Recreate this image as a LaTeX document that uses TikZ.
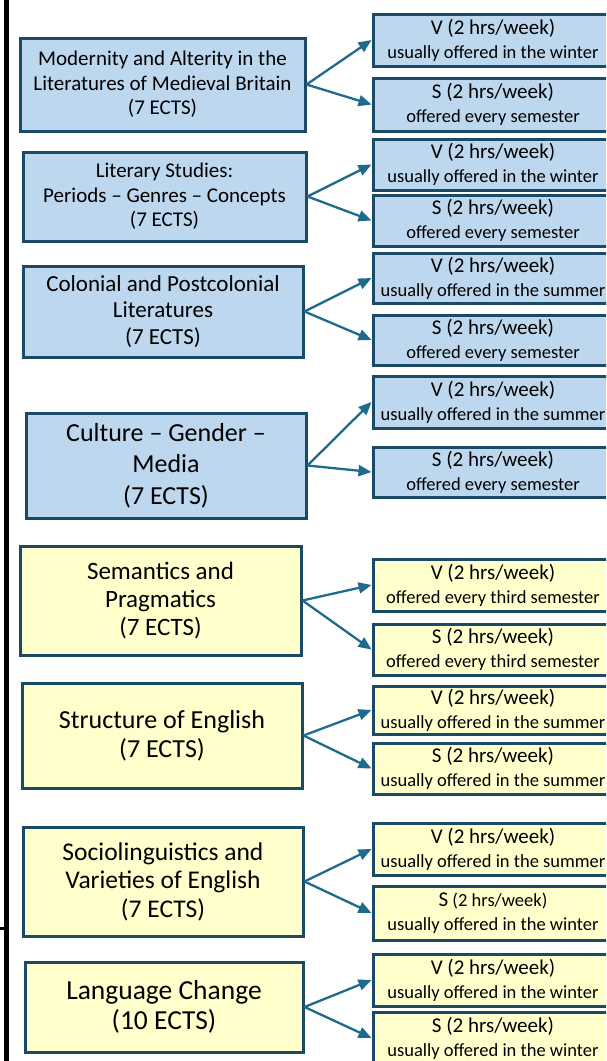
\documentclass[tikz,border=0pt]{standalone}
\usepackage{fontspec}
\setmainfont{Carlito}
\usetikzlibrary{arrows.meta}
\definecolor{bfill}{HTML}{BDD7EE}
\definecolor{yfill}{HTML}{FFFFCC}
\definecolor{bord}{HTML}{1B4A66}
\definecolor{arrc}{HTML}{1F6B8E}
\tikzset{
  box/.style={draw=bord, line width=3pt, align=center, inner sep=1pt},
  lblue/.style={box, fill=bfill},
  lyel/.style={box, fill=yfill},
  rbox/.style={box, minimum width=240pt, font=\fontsize{18.5}{24}\selectfont},
  rblue/.style={rbox, fill=bfill},
  ryel/.style={rbox, fill=yfill},
  arr/.style={draw=arrc, line width=2.3pt, -{Triangle[length=13pt,width=11pt]}},
}
\newcommand{\hd}[1]{{\fontsize{21}{24}\selectfont #1}}
\begin{document}
\begin{tikzpicture}[x=1pt,y=-1pt]
\useasboundingbox (0,0) rectangle (606,1061);
\clip (0,0) rectangle (606,1061);
\fill[white] (0,0) rectangle (606,1061);
% left rule
\coordinate (ruletop) at (6.5,0);
\coordinate (rulebot) at (6.5,1061);
\coordinate (tickl) at (0,928);
\coordinate (tickr) at (9,928);
\draw[line width=5pt] (ruletop) -- (rulebot);
\draw[line width=3pt] (tickl) -- (tickr);

% left boxes
\node[lblue, minimum width=285pt, minimum height=93pt, font=\fontsize{21}{24.5}\selectfont] (L1) at (162.5,84.5)
  {Modernity and Alterity in the\\Literatures of Medieval Britain\\(7 ECTS)};
\node[lblue, minimum width=283pt, minimum height=89pt, font=\fontsize{21}{24.5}\selectfont] (L2) at (164.5,196.5)
  {Literary Studies:\\Periods -- Genres -- Concepts\\(7 ECTS)};
\node[lblue, minimum width=280pt, minimum height=91pt, font=\fontsize{23}{26.5}\selectfont] (L3) at (163,311.5)
  {Colonial and Postcolonial\\Literatures\\(7 ECTS)};
\node[lblue, minimum width=280pt, minimum height=105pt, font=\fontsize{26}{31.5}\selectfont] (L4) at (166,465.5)
  {Culture -- Gender --\\Media\\(7 ECTS)};
\node[lyel, minimum width=281pt, minimum height=109pt, font=\fontsize{25}{28}\selectfont] (L5) at (160.5,600.5)
  {Semantics and\\Pragmatics\\(7 ECTS)};
\node[lyel, minimum width=280pt, minimum height=105pt, font=\fontsize{26}{29}\selectfont] (L6) at (162,735.5)
  {Structure of English\\(7 ECTS)};
\node[lyel, minimum width=280pt, minimum height=109pt, font=\fontsize{25.5}{28.5}\selectfont] (L7) at (163,881.5)
  {Sociolinguistics and\\Varieties of English\\(7 ECTS)};
\node[lyel, minimum width=278pt, minimum height=90pt, font=\fontsize{27.5}{30}\selectfont] (L8) at (164,1007)
  {Language Change\\(10 ECTS)};

% right boxes
\node[rblue, minimum height=52pt] (V1) at (493,40) {\hd{V (2 hrs/week)}\\usually offered in the winter};
\node[rblue, minimum height=53pt] (S1) at (493,104.5) {\hd{S (2 hrs/week)}\\offered every semester};
\node[rblue, minimum height=51pt] (V2) at (493,164.5) {\hd{V (2 hrs/week)}\\usually offered in the winter};
\node[rblue, minimum height=51pt] (S2) at (493,220.5) {\hd{S (2 hrs/week)}\\offered every semester};
\node[rblue, minimum height=50pt] (V3) at (493,278) {\hd{V (2 hrs/week)}\\usually offered in the summer};
\node[rblue, minimum height=50pt] (S3) at (493,340) {\hd{S (2 hrs/week)}\\offered every semester};
\node[rblue, minimum height=52pt] (V4) at (493,402) {\hd{V (2 hrs/week)}\\usually offered in the summer};
\node[rblue, minimum height=50pt] (S4) at (493,472) {\hd{S (2 hrs/week)}\\offered every semester};
\node[ryel, minimum height=52pt] (V5) at (493,585) {\hd{V (2 hrs/week)}\\offered every third semester};
\node[ryel, minimum height=51pt] (S5) at (493,649.5) {\hd{S (2 hrs/week)}\\offered every third semester};
\node[ryel, minimum height=48pt] (V6) at (493,710) {\hd{V (2 hrs/week)}\\usually offered in the summer};
\node[ryel, minimum height=51pt] (S6) at (493,768.5) {\hd{S (2 hrs/week)}\\usually offered in the summer};
\node[ryel, minimum height=52pt] (V7) at (493,849) {\hd{V (2 hrs/week)}\\usually offered in the summer};
\node[ryel, minimum height=54pt] (S7) at (493,913) {\hd{S} (2 hrs/week)\\usually offered in the winter};
\node[ryel, minimum height=52pt] (V8) at (493,980) {\hd{V (2 hrs/week)}\\usually offered in the winter};
\node[ryel, minimum height=52pt] (S8) at (493,1038) {\hd{S (2 hrs/week)}\\usually offered in the winter};

% connectors
\foreach \i in {1,...,8} {
  \draw[arr] (L\i.east) -- (V\i.west);
  \draw[arr] (L\i.east) -- (S\i.west);
}
\end{tikzpicture}
\end{document}
